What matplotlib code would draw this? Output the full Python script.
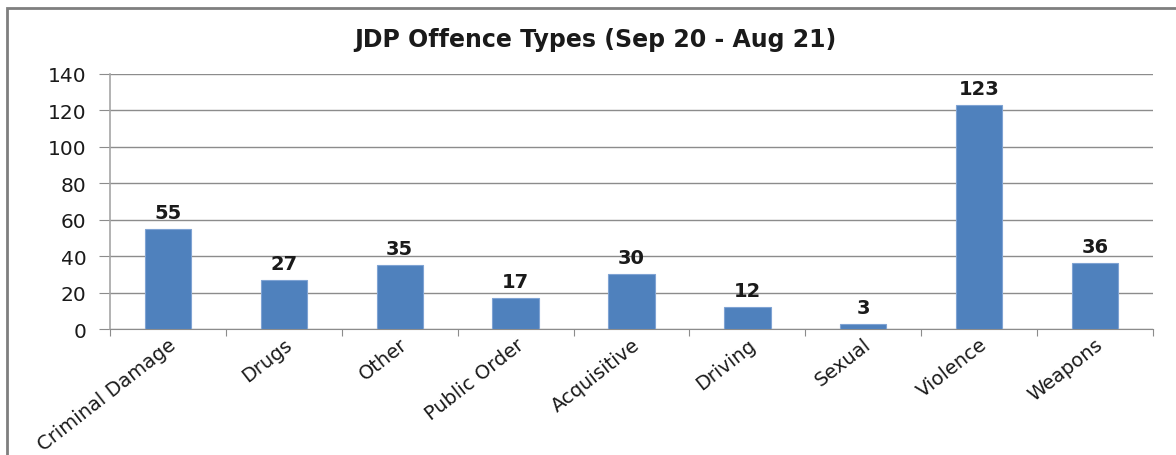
import matplotlib.pyplot as plt
import matplotlib.patches as mpatches
import numpy as np

# JDP offence counts, Sep 20 - Aug 21
offence_types = ['Criminal Damage', 'Drugs', 'Other', 'Public Order', 'Acquisitive',
                 'Driving', 'Sexual', 'Violence', 'Weapons']
counts = [55, 27, 35, 17, 30, 12, 3, 123, 36]
y_ticks = [0, 20, 40, 60, 80, 100, 120, 140]

plt.rcParams['font.family'] = ['DejaVu Sans']
grid_col = '#8c8c8c'
bar_col = '#4f81bd'

fig = plt.figure(figsize=(11.76, 4.56), dpi=100)
ax = fig.add_axes([110/1176, 1-330/456, 1043/1176, 255/456])

x = np.arange(len(offence_types))
bars = ax.bar(x, counts, width=0.4, color=bar_col, edgecolor='#7fa3d3', linewidth=0.8, zorder=3)
for b, v in zip(bars, counts):
    ax.annotate(str(v), (b.get_x() + b.get_width()/2, v), xytext=(0, 5),
                textcoords='offset points', ha='center', va='bottom',
                fontsize=14, fontweight='bold', color='#1a1a1a')

ax.set_xlim(-0.5, len(offence_types) - 0.5)
ax.set_ylim(0, 140)
ax.set_yticks(y_ticks)
ax.set_yticklabels([str(t) for t in y_ticks], fontsize=14.5, color='#1a1a1a')
ax.yaxis.grid(True, color=grid_col, linewidth=1.0, zorder=0)
ax.tick_params(axis='y', length=8, color=grid_col, pad=9)

# category ticks sit on the boundaries, labels under the bar centres
ax.set_xticks(np.arange(len(offence_types) + 1) - 0.5)
ax.set_xticklabels([])
ax.set_xticks(x, minor=True)
ax.set_xticklabels(offence_types, minor=True, rotation=38, ha='right',
                   rotation_mode='anchor', fontsize=14, color='#1a1a1a')
ax.tick_params(axis='x', which='major', length=5, color=grid_col)
ax.tick_params(axis='x', which='minor', length=0, pad=4)

for side in ['top', 'right']:
    ax.spines[side].set_visible(False)
ax.spines['left'].set_color('#a6a6a6')
ax.spines['bottom'].set_color(grid_col)
ax.spines['left'].set_linewidth(1.2)

fig.text(595/1176, 1-40/456, 'JDP Offence Types (Sep 20 - Aug 21)', ha='center', va='center',
         fontsize=17, fontweight='bold', color='#1a1a1a')

# outer chart frame
fig.patches.append(mpatches.Rectangle((7/1176, -0.1), 1.1, 1.1 - 9/456, transform=fig.transFigure,
                                      fill=False, edgecolor='#7f7f7f', linewidth=2.0))

fig.savefig('out.png', dpi=100)
